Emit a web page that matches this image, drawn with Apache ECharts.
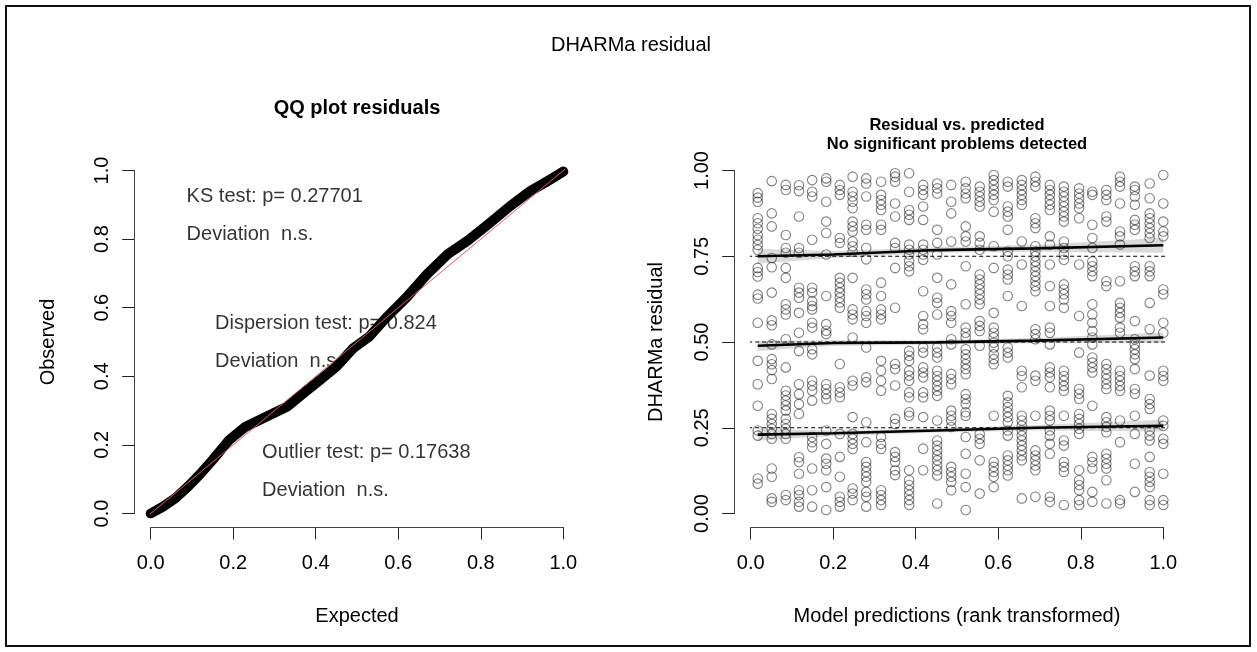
<!DOCTYPE html>
<html><head><meta charset="utf-8">
<script src="https://cdn.jsdelivr.net/npm/echarts@6/dist/echarts.min.js"></script>
<style>html,body{margin:0;padding:0;background:#fff}#c{width:1257px;height:652px}</style>
</head><body><div id="c"></div>
<script>
const FONT = '"Liberation Sans", Arial, sans-serif';

// ---- QQ panel data ----
const qqExpected = [0.000,0.030,0.060,0.090,0.120,0.150,0.190,0.230,0.280,0.330,0.370,0.410,0.450,0.490,0.530,0.570,0.620,0.670,0.720,0.770,0.820,0.870,0.920,0.970,1.000];
const qqObserved = [0.000,0.020,0.045,0.078,0.115,0.156,0.214,0.253,0.282,0.311,0.350,0.389,0.428,0.481,0.516,0.570,0.630,0.698,0.756,0.797,0.845,0.895,0.940,0.975,0.997];
const refLine = [-0.04, 1.04];
const testLabels = ['KS test: p= 0.27701','Deviation  n.s.','Dispersion test: p= 0.824','Deviation  n.s.','Outlier test: p= 0.17638','Deviation  n.s.'];
const testX = [0.087,0.087,0.156,0.156,0.270,0.270];
const testY = [0.924,0.812,0.554,0.443,0.178,0.068];

// ---- Residual vs predicted data ----
const predX = [0.017,0.051,0.085,0.117,0.149,0.183,0.216,0.247,0.280,0.316,0.350,0.384,0.418,0.452,0.486,0.521,0.555,0.589,0.623,0.657,0.690,0.725,0.759,0.796,0.828,0.862,0.895,0.931,0.967,1.000];
const residCols = [
 [0.934,0.921,0.909,0.861,0.846,0.830,0.812,0.798,0.783,0.769,0.716,0.704,0.691,0.638,0.627,0.556,0.445,0.377,0.314,0.242,0.227,0.102,0.087],
 [0.969,0.875,0.837,0.745,0.718,0.644,0.563,0.549,0.493,0.450,0.435,0.418,0.392,0.290,0.276,0.261,0.247,0.232,0.218,0.131,0.107,0.044,0.034],
 [0.958,0.943,0.812,0.774,0.760,0.716,0.687,0.610,0.595,0.580,0.508,0.426,0.358,0.344,0.329,0.315,0.300,0.276,0.261,0.247,0.232,0.218,0.054,0.039],
 [0.957,0.940,0.866,0.774,0.760,0.658,0.644,0.629,0.585,0.527,0.474,0.377,0.348,0.319,0.290,0.164,0.150,0.116,0.068,0.054,0.034,0.020],
 [0.972,0.938,0.924,0.798,0.658,0.644,0.619,0.605,0.595,0.556,0.542,0.479,0.464,0.387,0.373,0.358,0.329,0.223,0.208,0.193,0.131,0.068,0.020],
 [0.977,0.967,0.909,0.851,0.818,0.755,0.634,0.552,0.533,0.523,0.377,0.363,0.348,0.334,0.242,0.203,0.160,0.145,0.126,0.077,0.010],
 [0.958,0.943,0.929,0.803,0.789,0.687,0.673,0.658,0.644,0.629,0.615,0.600,0.436,0.368,0.353,0.339,0.232,0.165,0.107,0.049,0.034,0.020],
 [0.982,0.938,0.924,0.909,0.890,0.851,0.837,0.822,0.793,0.779,0.764,0.687,0.595,0.580,0.566,0.513,0.387,0.373,0.281,0.232,0.218,0.203,0.188,0.073,0.058,0.039],
 [0.977,0.962,0.924,0.842,0.827,0.774,0.741,0.653,0.639,0.624,0.590,0.576,0.556,0.484,0.397,0.383,0.266,0.208,0.150,0.136,0.121,0.107,0.092,0.063,0.049,0.020],
 [0.967,0.929,0.914,0.900,0.885,0.842,0.827,0.673,0.634,0.595,0.580,0.566,0.445,0.416,0.387,0.358,0.223,0.203,0.188,0.068,0.054,0.039,0.025],
 [0.992,0.982,0.967,0.904,0.866,0.789,0.774,0.716,0.600,0.436,0.421,0.373,0.276,0.261,0.179,0.165,0.150,0.126,0.112],
 [0.992,0.938,0.885,0.871,0.856,0.784,0.769,0.755,0.736,0.721,0.706,0.474,0.460,0.445,0.416,0.402,0.387,0.353,0.339,0.295,0.285,0.126,0.097,0.083,0.068,0.054,0.039,0.025],
 [0.958,0.943,0.929,0.895,0.856,0.784,0.769,0.755,0.740,0.648,0.576,0.552,0.537,0.484,0.469,0.426,0.411,0.397,0.353,0.339,0.281,0.189,0.126],
 [0.962,0.948,0.933,0.827,0.789,0.755,0.687,0.629,0.614,0.580,0.484,0.469,0.455,0.416,0.401,0.387,0.372,0.358,0.343,0.271,0.213,0.198,0.184,0.169,0.155,0.140,0.126,0.111,0.029],
 [0.958,0.909,0.875,0.793,0.668,0.590,0.576,0.556,0.508,0.493,0.407,0.392,0.377,0.300,0.285,0.271,0.252,0.136,0.121,0.107,0.092,0.068],
 [0.967,0.948,0.933,0.919,0.837,0.808,0.793,0.721,0.610,0.542,0.527,0.513,0.479,0.464,0.450,0.435,0.421,0.406,0.348,0.334,0.319,0.295,0.285,0.223,0.174,0.116,0.077,0.010],
 [0.953,0.938,0.924,0.909,0.895,0.808,0.789,0.769,0.697,0.682,0.668,0.653,0.639,0.624,0.610,0.561,0.547,0.532,0.489,0.232,0.218,0.203,0.155,0.058],
 [0.987,0.972,0.958,0.943,0.929,0.914,0.880,0.779,0.716,0.585,0.542,0.527,0.513,0.498,0.484,0.464,0.450,0.435,0.285,0.150,0.136,0.121,0.107,0.077],
 [0.967,0.953,0.895,0.880,0.866,0.827,0.764,0.750,0.711,0.697,0.682,0.634,0.484,0.469,0.455,0.343,0.324,0.310,0.295,0.281,0.266,0.242,0.227,0.169,0.155,0.140,0.126,0.111],
 [0.972,0.958,0.943,0.929,0.914,0.900,0.793,0.726,0.605,0.416,0.401,0.368,0.285,0.271,0.256,0.242,0.227,0.213,0.198,0.184,0.169,0.155,0.044],
 [0.982,0.967,0.953,0.861,0.846,0.832,0.779,0.764,0.750,0.735,0.721,0.706,0.692,0.677,0.663,0.648,0.537,0.523,0.508,0.402,0.387,0.285,0.184,0.169,0.155,0.140,0.126,0.049],
 [0.958,0.943,0.929,0.914,0.900,0.885,0.808,0.784,0.726,0.663,0.605,0.542,0.527,0.493,0.426,0.411,0.397,0.368,0.300,0.285,0.271,0.242,0.227,0.203,0.174,0.049,0.034],
 [0.953,0.938,0.924,0.909,0.895,0.880,0.866,0.851,0.793,0.774,0.755,0.740,0.668,0.653,0.639,0.624,0.600,0.416,0.401,0.387,0.372,0.358,0.285,0.213,0.198,0.150,0.136,0.121,0.025],
 [0.948,0.933,0.919,0.904,0.890,0.861,0.726,0.576,0.469,0.363,0.349,0.334,0.290,0.276,0.261,0.247,0.232,0.126,0.097,0.083,0.068,0.039,0.025],
 [0.938,0.929,0.842,0.803,0.774,0.735,0.721,0.706,0.692,0.610,0.580,0.556,0.532,0.513,0.493,0.455,0.440,0.426,0.411,0.314,0.165,0.150,0.131,0.063,0.034],
 [0.943,0.929,0.914,0.866,0.851,0.677,0.663,0.436,0.421,0.406,0.392,0.377,0.363,0.281,0.266,0.252,0.237,0.174,0.160,0.145,0.131,0.097,0.029],
 [0.982,0.967,0.953,0.904,0.822,0.808,0.784,0.677,0.614,0.600,0.585,0.571,0.542,0.527,0.416,0.401,0.387,0.372,0.358,0.271,0.208,0.039,0.029],
 [0.953,0.943,0.924,0.900,0.856,0.842,0.827,0.721,0.706,0.692,0.561,0.508,0.493,0.479,0.464,0.450,0.421,0.363,0.349,0.285,0.232,0.145,0.063],
 [0.962,0.919,0.875,0.861,0.846,0.832,0.817,0.803,0.721,0.706,0.692,0.614,0.537,0.402,0.334,0.319,0.305,0.242,0.227,0.213,0.165,0.121,0.107,0.092,0.077,0.039,0.025],
 [0.987,0.904,0.851,0.822,0.808,0.653,0.639,0.556,0.527,0.416,0.401,0.387,0.271,0.256,0.218,0.203,0.116,0.039,0.025]
];
const quantLevels = [0.25, 0.5, 0.75];
const fitX   = [0.017, 0.200, 0.450, 0.690, 1.000];
const q25Fit = [0.230, 0.234, 0.242, 0.250, 0.256];
const q25Lo  = [0.213, 0.226, 0.236, 0.242, 0.239];
const q25Hi  = [0.247, 0.242, 0.248, 0.258, 0.273];
const q50Fit = [0.489, 0.497, 0.499, 0.504, 0.513];
const q50Lo  = [0.474, 0.489, 0.493, 0.496, 0.498];
const q50Hi  = [0.504, 0.505, 0.505, 0.512, 0.528];
const q75Fit = [0.750, 0.755, 0.768, 0.773, 0.782];
const q75Lo  = [0.728, 0.745, 0.760, 0.763, 0.760];
const q75Hi  = [0.772, 0.765, 0.776, 0.783, 0.804];

// ---- build ----
const chart = echarts.init(document.getElementById('c'));
const zip = (xs, ys) => xs.map((x, i) => [x, ys[i]]);
const scatterData = [];
predX.forEach((x, i) => residCols[i].forEach(v => scatterData.push([x, v])));

const axText = {fontSize: 20, color: '#000', fontFamily: FONT};
function xAx(g, name) {
  return {type: 'value', gridIndex: g, min: 0, max: 1, interval: 0.2, position: 'bottom', offset: 14,
    axisLine: {show: true, onZero: false, lineStyle: {color: '#444', width: 1}},
    axisTick: {show: true, length: 12, lineStyle: {color: '#222', width: 1}},
    axisLabel: Object.assign({margin: 26, formatter: v => v.toFixed(1)}, axText),
    splitLine: {show: false}, name: name, nameLocation: 'middle', nameGap: 79, nameTextStyle: axText};
}
function yAx(g, name, interval, digits, gap) {
  return {type: 'value', gridIndex: g, min: 0, max: 1, interval: interval, position: 'left', offset: 16.5,
    axisLine: {show: true, onZero: false, lineStyle: {color: '#444', width: 1}},
    axisTick: {show: true, length: 12, lineStyle: {color: '#222', width: 1}},
    axisLabel: Object.assign({margin: 22, rotate: 90, formatter: v => v.toFixed(digits)}, axText),
    splitLine: {show: false}, name: name, nameLocation: 'middle', nameGap: gap, nameTextStyle: axText};
}
function band(lo, hi) {
  return {type: 'custom', xAxisIndex: 1, yAxisIndex: 1, silent: true, z: 2, data: [0],
    renderItem: function (params, api) {
      const pts = [];
      for (let i = 0; i < fitX.length; i++) pts.push(api.coord([fitX[i], hi[i]]));
      for (let i = fitX.length - 1; i >= 0; i--) pts.push(api.coord([fitX[i], lo[i]]));
      return {type: 'polygon', shape: {points: pts}, style: {fill: 'rgba(205,205,205,0.75)'}};
    }};
}
function fitLine(fit) {
  return {type: 'line', xAxisIndex: 1, yAxisIndex: 1, data: zip(fitX, fit), symbol: 'none', silent: true, z: 6,
    lineStyle: {color: '#000', width: 2.6}};
}
function dashLine(q) {
  return {type: 'line', xAxisIndex: 1, yAxisIndex: 1, data: refLine.map(x => [x, q]), symbol: 'none', silent: true,
    clip: false, z: 4, lineStyle: {color: '#000', width: 1, type: [4, 3]}};
}

const option = {
  animation: false,
  backgroundColor: '#fff',
  grid: [
    {left: 150.7, top: 170.5, width: 412.6, height: 343, outerBoundsMode: 'none', containLabel: false},
    {left: 750.7, top: 170.5, width: 412.6, height: 343, outerBoundsMode: 'none', containLabel: false}
  ],
  xAxis: [xAx(0, 'Expected'), xAx(1, 'Model predictions (rank transformed)')],
  yAxis: [yAx(0, 'Observed', 0.2, 1, 76), yAx(1, 'DHARMa residual', 0.25, 2, 68)],
  graphic: [
    {type: 'rect', shape: {x: 6, y: 6, width: 1244, height: 640}, style: {fill: 'none', stroke: '#111', lineWidth: 2}, silent: true},
    {type: 'text', x: 631, y: 45, style: {text: 'DHARMa residual', fontSize: 20, fontFamily: FONT, fill: '#000', align: 'center', verticalAlign: 'middle'}},
    {type: 'text', x: 357, y: 108, style: {text: 'QQ plot residuals', fontSize: 20, fontWeight: 'bold', fontFamily: FONT, fill: '#000', align: 'center', verticalAlign: 'middle'}},
    {type: 'text', x: 957, y: 125, style: {text: 'Residual vs. predicted', fontSize: 16.5, fontWeight: 'bold', fontFamily: FONT, fill: '#000', align: 'center', verticalAlign: 'middle'}},
    {type: 'text', x: 957, y: 144, style: {text: 'No significant problems detected', fontSize: 16.5, fontWeight: 'bold', fontFamily: FONT, fill: '#000', align: 'center', verticalAlign: 'middle'}}
  ],
  series: [
    {type: 'scatter', xAxisIndex: 0, yAxisIndex: 0, silent: true, z: 1, symbolSize: 0,
      data: testX.map((x, i) => [x, testY[i], testLabels[i]]),
      itemStyle: {color: 'rgba(0,0,0,0)'},
      label: {show: true, position: 'right', distance: 0, formatter: p => p.value[2], fontSize: 20, color: '#000',
        fontFamily: FONT, textBorderWidth: 0}},
    {type: 'line', xAxisIndex: 0, yAxisIndex: 0, silent: true, z: 2, data: zip(qqExpected, qqObserved),
      lineStyle: {color: '#000', width: 10, join: 'round', cap: 'round'}, symbol: 'none'},
    {type: 'line', xAxisIndex: 0, yAxisIndex: 0, silent: true, z: 3, clip: false, data: zip(refLine, refLine),
      symbol: 'none', lineStyle: {color: 'rgb(214,92,112)', width: 1}},
    band(q25Lo, q25Hi), band(q50Lo, q50Hi), band(q75Lo, q75Hi),
    dashLine(quantLevels[0]), dashLine(quantLevels[1]), dashLine(quantLevels[2]),
    {type: 'scatter', xAxisIndex: 1, yAxisIndex: 1, silent: true, z: 5, data: scatterData, symbol: 'circle', symbolSize: 9.5,
      itemStyle: {color: 'rgba(0,0,0,0)', borderColor: 'rgba(0,0,0,0.62)', borderWidth: 1.1}},
    fitLine(q25Fit), fitLine(q50Fit), fitLine(q75Fit)
  ]
};
chart.setOption(option);
</script></body></html>
